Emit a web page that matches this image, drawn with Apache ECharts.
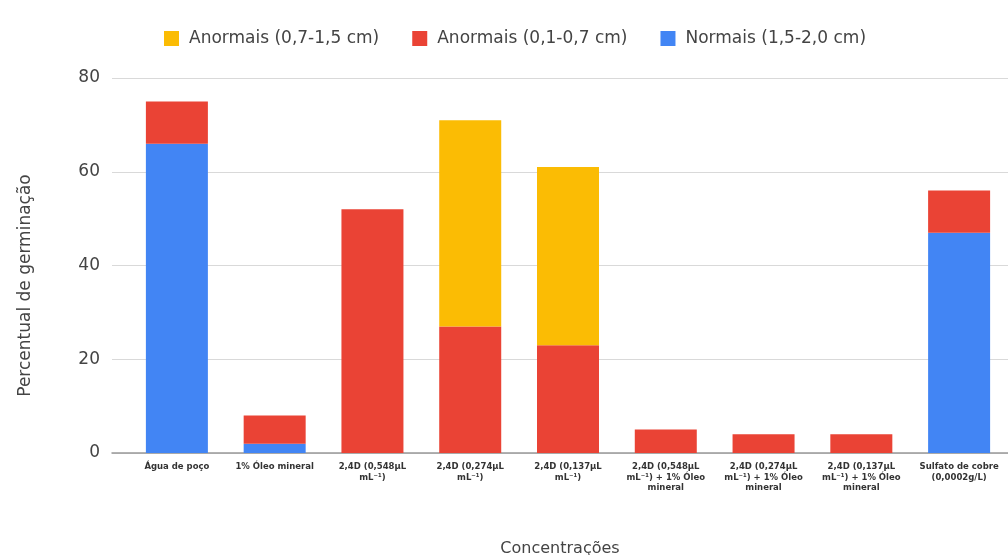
<!DOCTYPE html>
<html>
<head>
<meta charset="utf-8">
<script src="https://cdn.jsdelivr.net/npm/echarts@6/dist/echarts.min.js"></script>
<style>html,body{margin:0;padding:0;background:#fff}#c{width:1008px;height:555px}</style>
</head>
<body>
<div id="c"></div>
<script>
const categories = [
  "Água de poço",
  "1% Óleo mineral",
  "2,4D (0,548µL\nmL⁻¹)",
  "2,4D (0,274µL\nmL⁻¹)",
  "2,4D (0,137µL\nmL⁻¹)",
  "2,4D (0,548µL\nmL⁻¹) + 1% Óleo\nmineral",
  "2,4D (0,274µL\nmL⁻¹) + 1% Óleo\nmineral",
  "2,4D (0,137µL\nmL⁻¹) + 1% Óleo\nmineral",
  "Sulfato de cobre\n(0,0002g/L)"
];
const normais = [66, 2, 0, 0, 0, 0, 0, 0, 47];
const anormais01 = [9, 6, 52, 27, 23, 5, 4, 4, 9];
const anormais07 = [0, 0, 0, 44, 38, 0, 0, 0, 0];
const yTicks = [0, 20, 40, 60, 80];

const chart = echarts.init(document.getElementById('c'));
const txt = '#444';
const font = '"DejaVu Sans", sans-serif';
const yMin = yTicks[0], yMax = yTicks[yTicks.length - 1], yStep = yTicks[1] - yTicks[0];
chart.setOption({
  animation: false,
  textStyle: {fontFamily: font},
  legend: {
    top: 25, left: 159,
    itemWidth: 15, itemHeight: 15, itemGap: 33,
    icon: 'rect',
    textStyle: {color: txt, fontSize: 17, fontFamily: font, padding: [0, 0, 0, 5]},
    data: ['Anormais (0,7-1,5 cm)', 'Anormais (0,1-0,7 cm)', 'Normais (1,5-2,0 cm)']
  },
  grid: [
    {left: 112, right: 0, top: 78, bottom: 102, outerBoundsMode: 'none'},
    {left: 128, right: 0, top: 78, bottom: 102, outerBoundsMode: 'none'}
  ],
  xAxis: [
    {
      gridIndex: 0, type: 'value', min: 0, max: 1,
      name: 'Concentrações', nameLocation: 'middle', nameGap: 88,
      nameTextStyle: {color: txt, fontSize: 16, fontFamily: font},
      splitLine: {show: false}, axisTick: {show: false}, axisLabel: {show: false},
      axisLine: {show: true, lineStyle: {color: '#999', width: 1.5}}
    },
    {
      gridIndex: 1, type: 'category', data: categories,
      axisLine: {show: false}, axisTick: {show: false}, splitLine: {show: false},
      axisLabel: {
        interval: 0, color: '#333', fontSize: 8.5, fontWeight: 'bold', lineHeight: 10.5,
        margin: 9, fontFamily: font
      }
    }
  ],
  yAxis: [
    {
      gridIndex: 0, type: 'value', min: yMin, max: yMax, interval: yStep,
      name: 'Percentual de germinação', nameLocation: 'middle', nameGap: 78,
      nameTextStyle: {color: txt, fontSize: 17, fontFamily: font, padding: [0, 40, 0, 0]},
      axisLabel: {color: txt, fontSize: 17, margin: 12, fontFamily: font},
      axisLine: {show: false}, axisTick: {show: false},
      splitLine: {lineStyle: {color: '#d9d9d9', width: 1}}
    },
    {
      gridIndex: 1, type: 'value', min: yMin, max: yMax, interval: yStep,
      axisLabel: {show: false}, axisLine: {show: false}, axisTick: {show: false}, splitLine: {show: false}
    }
  ],
  series: [
    {name: 'Normais (1,5-2,0 cm)', type: 'bar', stack: 's', xAxisIndex: 1, yAxisIndex: 1, barWidth: 62, data: normais, itemStyle: {color: '#4285f4'}},
    {name: 'Anormais (0,1-0,7 cm)', type: 'bar', stack: 's', xAxisIndex: 1, yAxisIndex: 1, barWidth: 62, data: anormais01, itemStyle: {color: '#ea4335'}},
    {name: 'Anormais (0,7-1,5 cm)', type: 'bar', stack: 's', xAxisIndex: 1, yAxisIndex: 1, barWidth: 62, data: anormais07, itemStyle: {color: '#fbbc04'}}
  ]
});
</script>
</body>
</html>
